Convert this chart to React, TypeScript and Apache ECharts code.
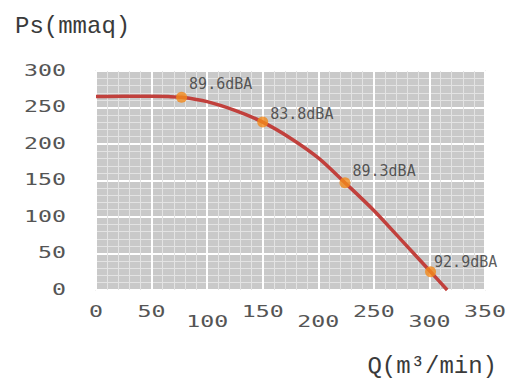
import { useEffect, useRef } from "react";
import * as echarts from "echarts";

const xTicks = [0, 50, 100, 150, 200, 250, 300, 350];
const yTicks = [0, 50, 100, 150, 200, 250, 300];
const curveQ = [0, 25, 50, 65, 77, 100, 125, 150, 175, 200, 224, 250, 275, 301, 316];
const curvePs = [265, 265.5, 265.5, 265, 264, 258, 246, 230, 208, 181, 147, 109, 68, 25, 0];
const pointQ = [77, 150, 224, 301];
const pointPs = [264, 230, 147, 25];
const pointNoise = ["89.6dBA", "83.8dBA", "89.3dBA", "92.9dBA"];
const yTitle = "Ps(mmaq)";
const xTitle = "Q(m\u00b3/min)";

export default function App() {
  const ref = useRef<HTMLDivElement>(null);
  useEffect(() => {
    const chart = echarts.init(ref.current!, null, { renderer: "svg" });
    const labelOffsets = [[0, -13], [0, -8], [0, -12], [-4, -10]];
    chart.setOption({
      animation: false,
      backgroundColor: "#ffffff",
      title: {
        text: yTitle,
        left: 10,
        top: 9,
        textStyle: { fontFamily: "Liberation Mono", fontSize: 24, fontWeight: "normal", color: "#3a3a3a" },
      },
      grid: {
        left: 96,
        top: 71,
        right: 28,
        bottom: 90,
        show: true,
        backgroundColor: "#c9c9c9",
        borderColor: "#f1f1f1",
        borderWidth: 2,
      },
      xAxis: {
        type: "value",
        min: 0,
        max: 350,
        interval: 50,
        axisLine: { show: false },
        axisTick: { show: false },
        axisLabel: { show: false },
        splitLine: { show: true, lineStyle: { color: "#ffffff", width: 2 } },
        minorTick: { show: false, splitNumber: 5 },
        minorSplitLine: { show: true, lineStyle: { color: "#e3e3e3", width: 1 } },
      },
      yAxis: {
        type: "value",
        min: 0,
        max: 300,
        interval: 50,
        axisLine: { show: false },
        axisTick: { show: false },
        axisLabel: { show: false },
        splitLine: { show: true, lineStyle: { color: "#ffffff", width: 2 } },
        minorTick: { show: false, splitNumber: 5 },
        minorSplitLine: { show: true, lineStyle: { color: "#e3e3e3", width: 1 } },
      },
      series: [
        {
          type: "line",
          data: curveQ.map((q, i) => [q, curvePs[i]]),
          smooth: 0.3,
          showSymbol: false,
          symbol: "none",
          lineStyle: { color: "#c1403c", width: 3.5 },
          z: 3,
        },
        {
          type: "scatter",
          data: pointQ.map((q, i) => ({
            value: [q, pointPs[i]],
            label: { offset: labelOffsets[i] },
          })),
          symbolSize: 11,
          itemStyle: { color: "#f28a1c" },
          label: {
            show: true,
            position: "right",
            distance: 2,
            formatter: (p: any) => pointNoise[p.dataIndex],
            fontFamily: "DejaVu Sans Mono",
            fontSize: 15,
            color: "#333333",
          },
          z: 4,
        },
      ],
    });

    const fontSize = 15;
    const fontFamily = "DejaVu Sans Mono";
    const sx = 1.55;
    const ctx = document.createElement("canvas").getContext("2d")!;
    ctx.font = `${fontSize}px "${fontFamily}"`;
    const graphics: any[] = [];
    const tickFont = { fontFamily, fontSize, fill: "#555555" };
    xTicks.forEach((v) => {
      const [px, py] = chart.convertToPixel({ gridIndex: 0 }, [v, 0]) as number[];
      const lower = v > 0 && v % 100 === 0;
      graphics.push({
        type: "text",
        x: px,
        y: py + (lower ? 32.5 : 22),
        scaleX: sx,
        style: { text: String(v), align: "center", verticalAlign: "middle", ...tickFont },
      });
    });
    yTicks.forEach((v) => {
      const [px, py] = chart.convertToPixel({ gridIndex: 0 }, [0, v]) as number[];
      const w = ctx.measureText(String(v)).width * sx;
      graphics.push({
        type: "text",
        x: px - 30 - w / 2,
        y: py,
        scaleX: sx,
        style: { text: String(v), align: "center", verticalAlign: "middle", ...tickFont },
      });
    });
    graphics.push({
      type: "text",
      right: 16,
      top: 354,
      style: { text: xTitle, fontFamily: "Liberation Mono", fontSize: 24, fill: "#3a3a3a" },
    });
    chart.setOption({ graphic: graphics });
    return () => chart.dispose();
  }, []);
  return <div ref={ref} style={{ position: "absolute", left: 0, top: 0, width: 513, height: 380 }} />;
}
